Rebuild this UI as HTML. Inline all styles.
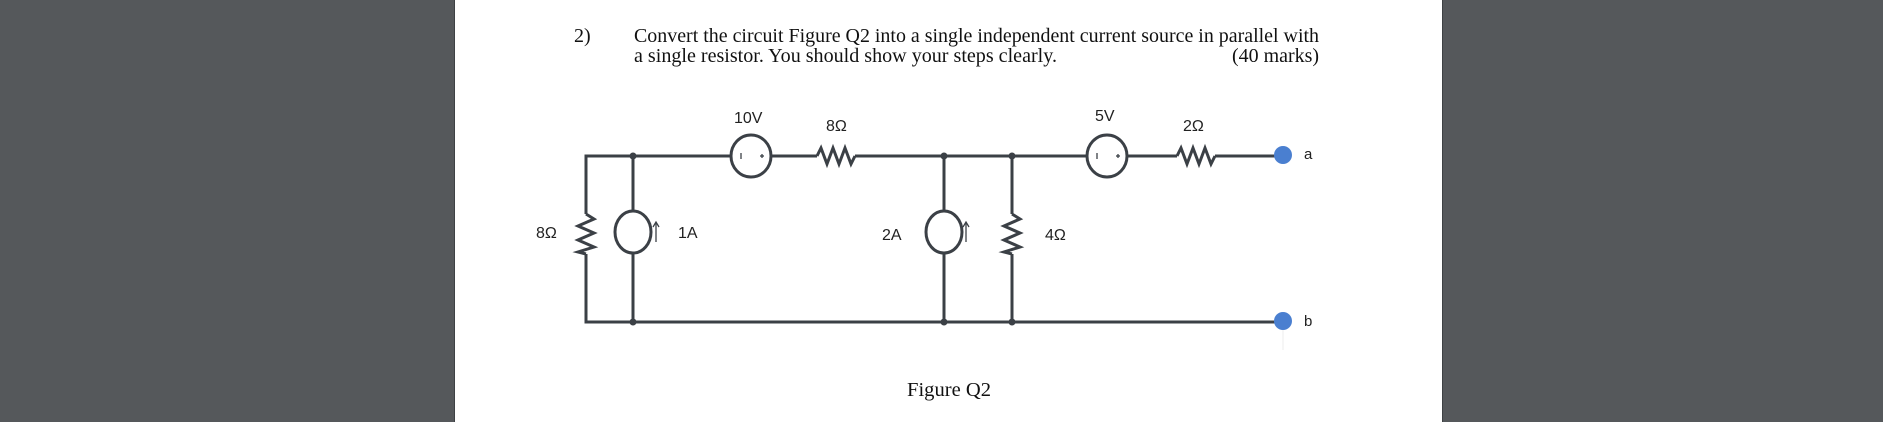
<!DOCTYPE html>
<html><head><meta charset="utf-8"><style>
html,body{margin:0;padding:0}
body{width:1883px;height:422px;background:#55585b;position:relative;overflow:hidden}
#page{position:absolute;left:454px;top:0;width:987px;height:422px;background:#fff;border-left:1px solid #3e4144;border-right:1px solid #3e4144}
svg{position:absolute;left:0;top:0}
</style></head><body>
<div id="page"></div>
<svg width="1883" height="422" viewBox="0 0 1883 422">
<g font-family="Liberation Serif,serif" font-size="20" fill="#111">
<text x="574" y="42">2)</text>
<text x="634" y="42" textLength="685" lengthAdjust="spacingAndGlyphs">Convert the circuit Figure Q2 into a single independent current source in parallel with</text>
<text x="634" y="62" textLength="423" lengthAdjust="spacingAndGlyphs">a single resistor. You should show your steps clearly.</text>
<text x="1232" y="62" textLength="87" lengthAdjust="spacingAndGlyphs">(40 marks)</text>
<text x="907" y="396" textLength="84" lengthAdjust="spacingAndGlyphs">Figure Q2</text>
</g>
<g stroke="#3b4046" stroke-width="3" fill="none">
<polyline points="586,214 586,156 731,156"/>
<line x1="771" y1="156" x2="817" y2="156"/>
<polyline points="817,156 821,148 827,164 833,148 839,164 845,148 851,164 855,156"/>
<line x1="855" y1="156" x2="1087" y2="156"/>
<line x1="1127" y1="156" x2="1177" y2="156"/>
<polyline points="1177,156 1181,148 1187,164 1193,148 1199,164 1205,148 1211,164 1215,156"/>
<line x1="1215" y1="156" x2="1283" y2="156"/>
<polyline points="586,254 586,322 1283,322"/>
<polyline points="586,214 594,219 578,226 594,233 578,240 594,247 578,252 586,254"/>
<line x1="633" y1="156" x2="633" y2="211"/>
<line x1="633" y1="253" x2="633" y2="322"/>
<ellipse cx="633" cy="232" rx="18" ry="21"/>
<line x1="944" y1="156" x2="944" y2="211"/>
<line x1="944" y1="253" x2="944" y2="322"/>
<ellipse cx="944" cy="232" rx="18" ry="21"/>
<line x1="1012" y1="156" x2="1012" y2="214"/>
<polyline points="1012,214 1020,219 1004,226 1020,233 1004,240 1020,247 1004,252 1012,254"/>
<line x1="1012" y1="254" x2="1012" y2="322"/>
<ellipse cx="751" cy="156" rx="20" ry="21"/>
<ellipse cx="1107" cy="156" rx="20" ry="21"/>
</g>
<g stroke="#3b4046" stroke-width="1.3" fill="none">
<line x1="656" y1="242" x2="656" y2="223"/><polyline points="653,227 656,222 659,227"/>
<line x1="966" y1="242" x2="966" y2="223"/><polyline points="963,227 966,222 969,227"/>
<line x1="741" y1="153" x2="741" y2="159"/><line x1="760" y1="156" x2="764" y2="156"/><line x1="762" y1="154" x2="762" y2="158"/>
<line x1="1097" y1="153" x2="1097" y2="159"/><line x1="1116" y1="156" x2="1120" y2="156"/><line x1="1118" y1="154" x2="1118" y2="158"/>
</g>
<g fill="#3b4046">
<circle cx="633" cy="156" r="3.5"/><circle cx="944" cy="156" r="3.5"/><circle cx="1012" cy="156" r="3.5"/>
<circle cx="633" cy="322" r="3.5"/><circle cx="944" cy="322" r="3.5"/><circle cx="1012" cy="322" r="3.5"/>
</g>
<line x1="1283" y1="322" x2="1283" y2="350" stroke="#eee" stroke-width="1"/>
<circle cx="1283" cy="155" r="9" fill="#4a7fd0"/>
<circle cx="1283" cy="321" r="9" fill="#4a7fd0"/>
<g font-family="Liberation Sans,DejaVu Sans,sans-serif" font-size="16" fill="#222">
<text x="734" y="123">10V</text>
<text x="826" y="131">8Ω</text>
<text x="1095" y="121">5V</text>
<text x="1183" y="131">2Ω</text>
<text x="536" y="238">8Ω</text>
<text x="678" y="238">1A</text>
<text x="882" y="240">2A</text>
<text x="1045" y="240">4Ω</text>
<text x="1304" y="159" font-size="15">a</text>
<text x="1304" y="326" font-size="15">b</text>
</g>
</svg>
</body></html>
